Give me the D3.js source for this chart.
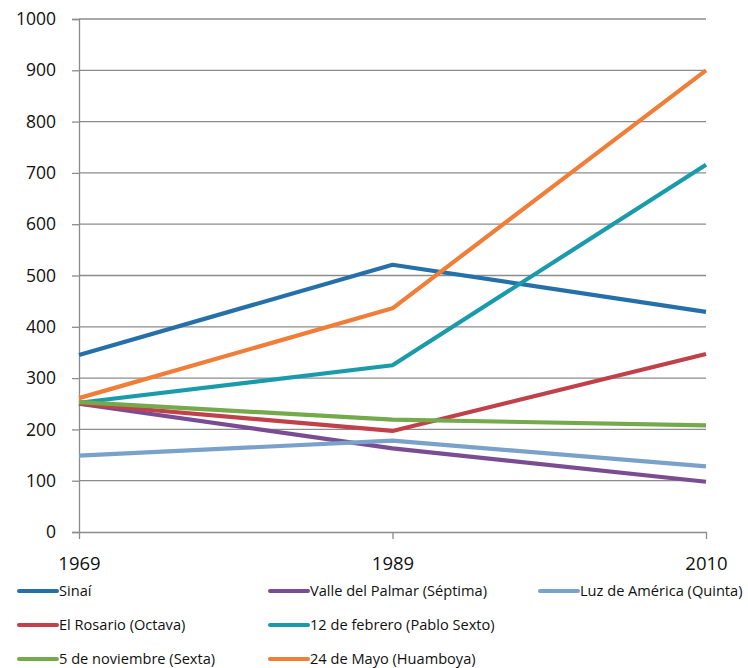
<!DOCTYPE html>
<html><head><meta charset="utf-8">
<script src="https://cdn.jsdelivr.net/npm/d3@7"></script>
<style>body{margin:0;background:#fff;} svg{display:block;font-family:"Open Sans",sans-serif;}</style>
</head><body><div id="chart"></div>
<script>
const years = ["1969", "1989", "2010"];
const seriesNames = ["Sinaí", "Valle del Palmar (Séptima)", "Luz de América (Quinta)", "El Rosario (Octava)", "12 de febrero (Pablo Sexto)", "5 de noviembre (Sexta)", "24 de Mayo (Huamboya)"];
const sinai = [345, 521, 429];
const valle = [250, 163, 98];
const luz = [149, 178, 128];
const rosario = [250, 197, 347];
const febrero = [252, 325, 716];
const noviembre = [253, 219, 208];
const mayo = [261, 436, 900];
const colors = ["#2570a8", "#7a4d93", "#7aa1c9", "#c1414a", "#1a9bab", "#74a94c", "#f07d38"];
const yTicks = [0, 100, 200, 300, 400, 500, 600, 700, 800, 900, 1000];
const values = [sinai, valle, luz, rosario, febrero, noviembre, mayo];

const W = 748, H = 668;
const svg = d3.select("#chart").append("svg").attr("width", W).attr("height", H);
const x = d3.scalePoint().domain(years).range([79, 706]);
const y = d3.scaleLinear().domain([0, 1000]).range([532, 19]);

// gridlines
svg.append("g").selectAll("line").data(yTicks.filter(d => d > 0)).join("line")
  .attr("x1", 79).attr("x2", 706).attr("y1", d => y(d)).attr("y2", d => y(d))
  .attr("stroke", "#8c8c8c").attr("stroke-width", 1.3);

// y axis
const ya = svg.append("g").attr("transform", "translate(79,0)")
  .call(d3.axisLeft(y).tickValues(yTicks).tickSize(7).tickPadding(16).tickFormat(d3.format("d")));
ya.select(".domain").attr("stroke", "#8c8c8c").attr("stroke-width", 1.3);
ya.selectAll(".tick line").attr("stroke", "#8c8c8c").attr("stroke-width", 1.3);
ya.selectAll("text").attr("font-size", 17.5).attr("fill", "#111").attr("font-family", "Open Sans, sans-serif");

// x axis
const xa = svg.append("g").attr("transform", "translate(0,532)")
  .call(d3.axisBottom(x).tickSize(7).tickPadding(18).tickSizeOuter(0));
xa.select(".domain").attr("stroke", "#8c8c8c").attr("stroke-width", 1.3);
xa.selectAll(".tick line").attr("stroke", "#8c8c8c").attr("stroke-width", 1.3);
xa.selectAll("text").attr("font-size", 18.5).attr("fill", "#111").attr("font-family", "Open Sans, sans-serif");

// lines
const line = d3.line().x((d, i) => x(years[i])).y(d => y(d));
svg.append("g").selectAll("path").data(values).join("path")
  .attr("d", d => line(d)).attr("fill", "none")
  .attr("stroke", (d, i) => colors[i]).attr("stroke-width", 4.2)
  .attr("stroke-linejoin", "round").attr("stroke-linecap", "butt");

// legend
const colX = [19, 270, 540];
const rowY = [591, 625, 659];
const legendPos = [[0,0],[1,0],[2,0],[0,1],[1,1],[0,2],[1,2]];
const lg = svg.append("g").selectAll("g").data(seriesNames).join("g")
  .attr("transform", (d, i) => `translate(${colX[legendPos[i][0]]},${rowY[legendPos[i][1]]})`);
lg.append("line").attr("x1", 0).attr("x2", 38).attr("stroke", (d, i) => colors[i])
  .attr("stroke-width", 4).attr("stroke-linecap", "round");
lg.append("text").attr("x", 40).attr("dy", "0.35em").attr("font-size", 14.6).attr("fill", "#111")
  .attr("font-family", "Open Sans, sans-serif").text(d => d);
</script></body></html>
